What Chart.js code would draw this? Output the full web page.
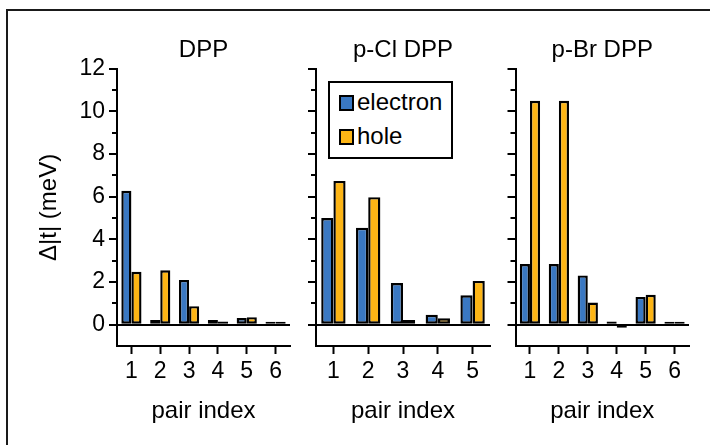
<!DOCTYPE html>
<html>
<head>
<meta charset="utf-8">
<script src="https://cdn.jsdelivr.net/npm/chart.js@4.4.1/dist/chart.umd.min.js"></script>
<style>
  html, body { margin: 0; padding: 0; width: 710px; height: 445px; overflow: hidden; background: #fff; }
  #wrap { position: relative; width: 710px; height: 445px; }
  canvas { position: absolute; left: 0; top: 0; }
  #frame { position: absolute; left: 6px; top: 9px; width: 730px; height: 460px; border: 2px solid #1a1a1a; box-sizing: border-box; }
  #legend { position: absolute; left: 328px; top: 81px; width: 125px; height: 78px; border: 2px solid #000; box-sizing: border-box; background: #fff;
            font-family: 'Liberation Sans', Arial, sans-serif; font-size: 24px; color: #000; }
  .item { position: absolute; left: 9px; height: 26px; line-height: 26px; white-space: nowrap; }
  .sw { display: inline-block; width: 15px; height: 16px; border: 2px solid #000; box-sizing: border-box; vertical-align: middle; margin-right: 3px; position: relative; top: -1px; }
</style>
</head>
<body>
<div id="wrap">
  <div id="frame"></div>
  <canvas id="c1" width="710" height="445"></canvas>
  <canvas id="c2" width="710" height="445"></canvas>
  <canvas id="c3" width="710" height="445"></canvas>
  <div id="legend"></div>
</div>
<script>
// ---- data ----
const seriesNames = ['electron', 'hole'];
const panelTitles = ['DPP', 'p-Cl DPP', 'p-Br DPP'];
const dppLabels = ['1', '2', '3', '4', '5', '6'];
const dppElectron = [6.28, 0.22, 2.10, 0.22, 0.31, 0.09];
const dppHole = [2.48, 2.55, 0.87, 0.15, 0.35, 0.03];
const pclLabels = ['1', '2', '3', '4', '5'];
const pclElectron = [5.00, 4.54, 1.95, 0.46, 1.38];
const pclHole = [6.74, 5.98, 0.22, 0.30, 2.05];
const pbrLabels = ['1', '2', '3', '4', '5', '6'];
const pbrElectron = [2.84, 2.84, 2.31, 0.15, 1.30, 0.10];
const pbrHole = [10.50, 10.50, 1.04, -0.05, 1.40, 0.11];
const yTickValues = [0, 2, 4, 6, 8, 10, 12];
const yMinorValues = [1, 3, 5, 7, 9, 11];

const BLUE = '#3a78c2';
const GOLD = '#fdb515';
const FONT = "'Liberation Sans', Arial, sans-serif";

Chart.defaults.color = '#000';
Chart.defaults.font.family = FONT;

const minorTicks = {
  id: 'minorTicks',
  afterDraw(chart) {
    const y = chart.scales.y;
    const ctx = chart.ctx;
    ctx.save();
    ctx.strokeStyle = '#000';
    ctx.lineWidth = 2;
    yMinorValues.forEach(v => {
      const py = Math.round(y.getPixelForValue(v));
      ctx.beginPath();
      ctx.moveTo(chart.chartArea.left - 5, py);
      ctx.lineTo(chart.chartArea.left, py);
      ctx.stroke();
    });
    ctx.restore();
  }
};

function makePanel(id, title, labels, elec, hole, pad, yWidth, showY) {
  return new Chart(document.getElementById(id), {
    type: 'bar',
    data: {
      labels: labels,
      datasets: [
        { label: seriesNames[0], data: elec, backgroundColor: BLUE },
        { label: seriesNames[1], data: hole, backgroundColor: GOLD }
      ]
    },
    options: {
      responsive: false,
      devicePixelRatio: 1,
      animation: false,
      events: [],
      layout: { padding: pad },
      datasets: {
        bar: {
          borderColor: '#000', borderWidth: 2.4, borderSkipped: false,
          barPercentage: 1, categoryPercentage: 0.7, minBarLength: 3
        }
      },
      plugins: {
        legend: { display: false },
        tooltip: { enabled: false },
        title: {
          display: true, text: title, fullSize: false,
          font: { size: 24, weight: 'normal', family: FONT },
          color: '#000',
          padding: { top: 0, bottom: 4 }
        }
      },
      scales: {
        x: {
          type: 'category',
          offset: true,
          afterFit: s => { s.height = 79.4; },
          grid: { display: true, drawOnChartArea: false, offset: false, tickLength: 8, tickWidth: 2, tickColor: '#000' },
          border: { display: true, color: '#000', width: 2 },
          ticks: { font: { size: 23, family: FONT }, padding: 4, maxRotation: 0, autoSkip: false },
          title: { display: true, text: 'pair index', font: { size: 24, family: FONT }, padding: { top: 0, bottom: 0 } }
        },
        y: {
          min: -1, max: 12,
          afterFit: s => { s.width = yWidth; },
          afterBuildTicks: s => { s.ticks = yTickValues.map(v => ({ value: v })); },
          grid: {
            drawOnChartArea: true, drawTicks: true, tickLength: 8, tickWidth: 2, tickColor: '#000',
            color: c => (c.tick && c.tick.value === 0) ? '#000' : 'rgba(0,0,0,0)',
            lineWidth: 2
          },
          border: { display: true, color: '#000', width: 2 },
          ticks: {
            font: { size: 23, family: FONT }, padding: 4,
            callback: v => showY ? String(v) : ''
          },
          title: {
            display: showY, text: 'Δ|t| (meV)', font: { size: 24, family: FONT },
            padding: { top: 4.6, bottom: 0 }
          }
        }
      }
    },
    plugins: [minorTicks]
  });
}

const charts = [
  makePanel('c1', panelTitles[0], dppLabels, dppElectron, dppHole, { left: 30, right: 420, top: 36, bottom: 19.6 }, 87, true),
  makePanel('c2', panelTitles[1], pclLabels, pclElectron, pclHole, { left: 296, right: 220, top: 36, bottom: 19.6 }, 20, false),
  makePanel('c3', panelTitles[2], pbrLabels, pbrElectron, pbrHole, { left: 495.5, right: 21, top: 36, bottom: 19.6 }, 20, false)
];

// legend built from the datasets of the middle panel
const lg = document.getElementById('legend');
charts[1].data.datasets.forEach((ds, i) => {
  const it = document.createElement('div');
  it.className = 'item';
  it.style.top = (i === 0 ? 6 : 40) + 'px';
  const sw = document.createElement('span');
  sw.className = 'sw';
  sw.style.background = ds.backgroundColor;
  it.appendChild(sw);
  it.appendChild(document.createTextNode(ds.label));
  lg.appendChild(it);
});
</script>
</body>
</html>
